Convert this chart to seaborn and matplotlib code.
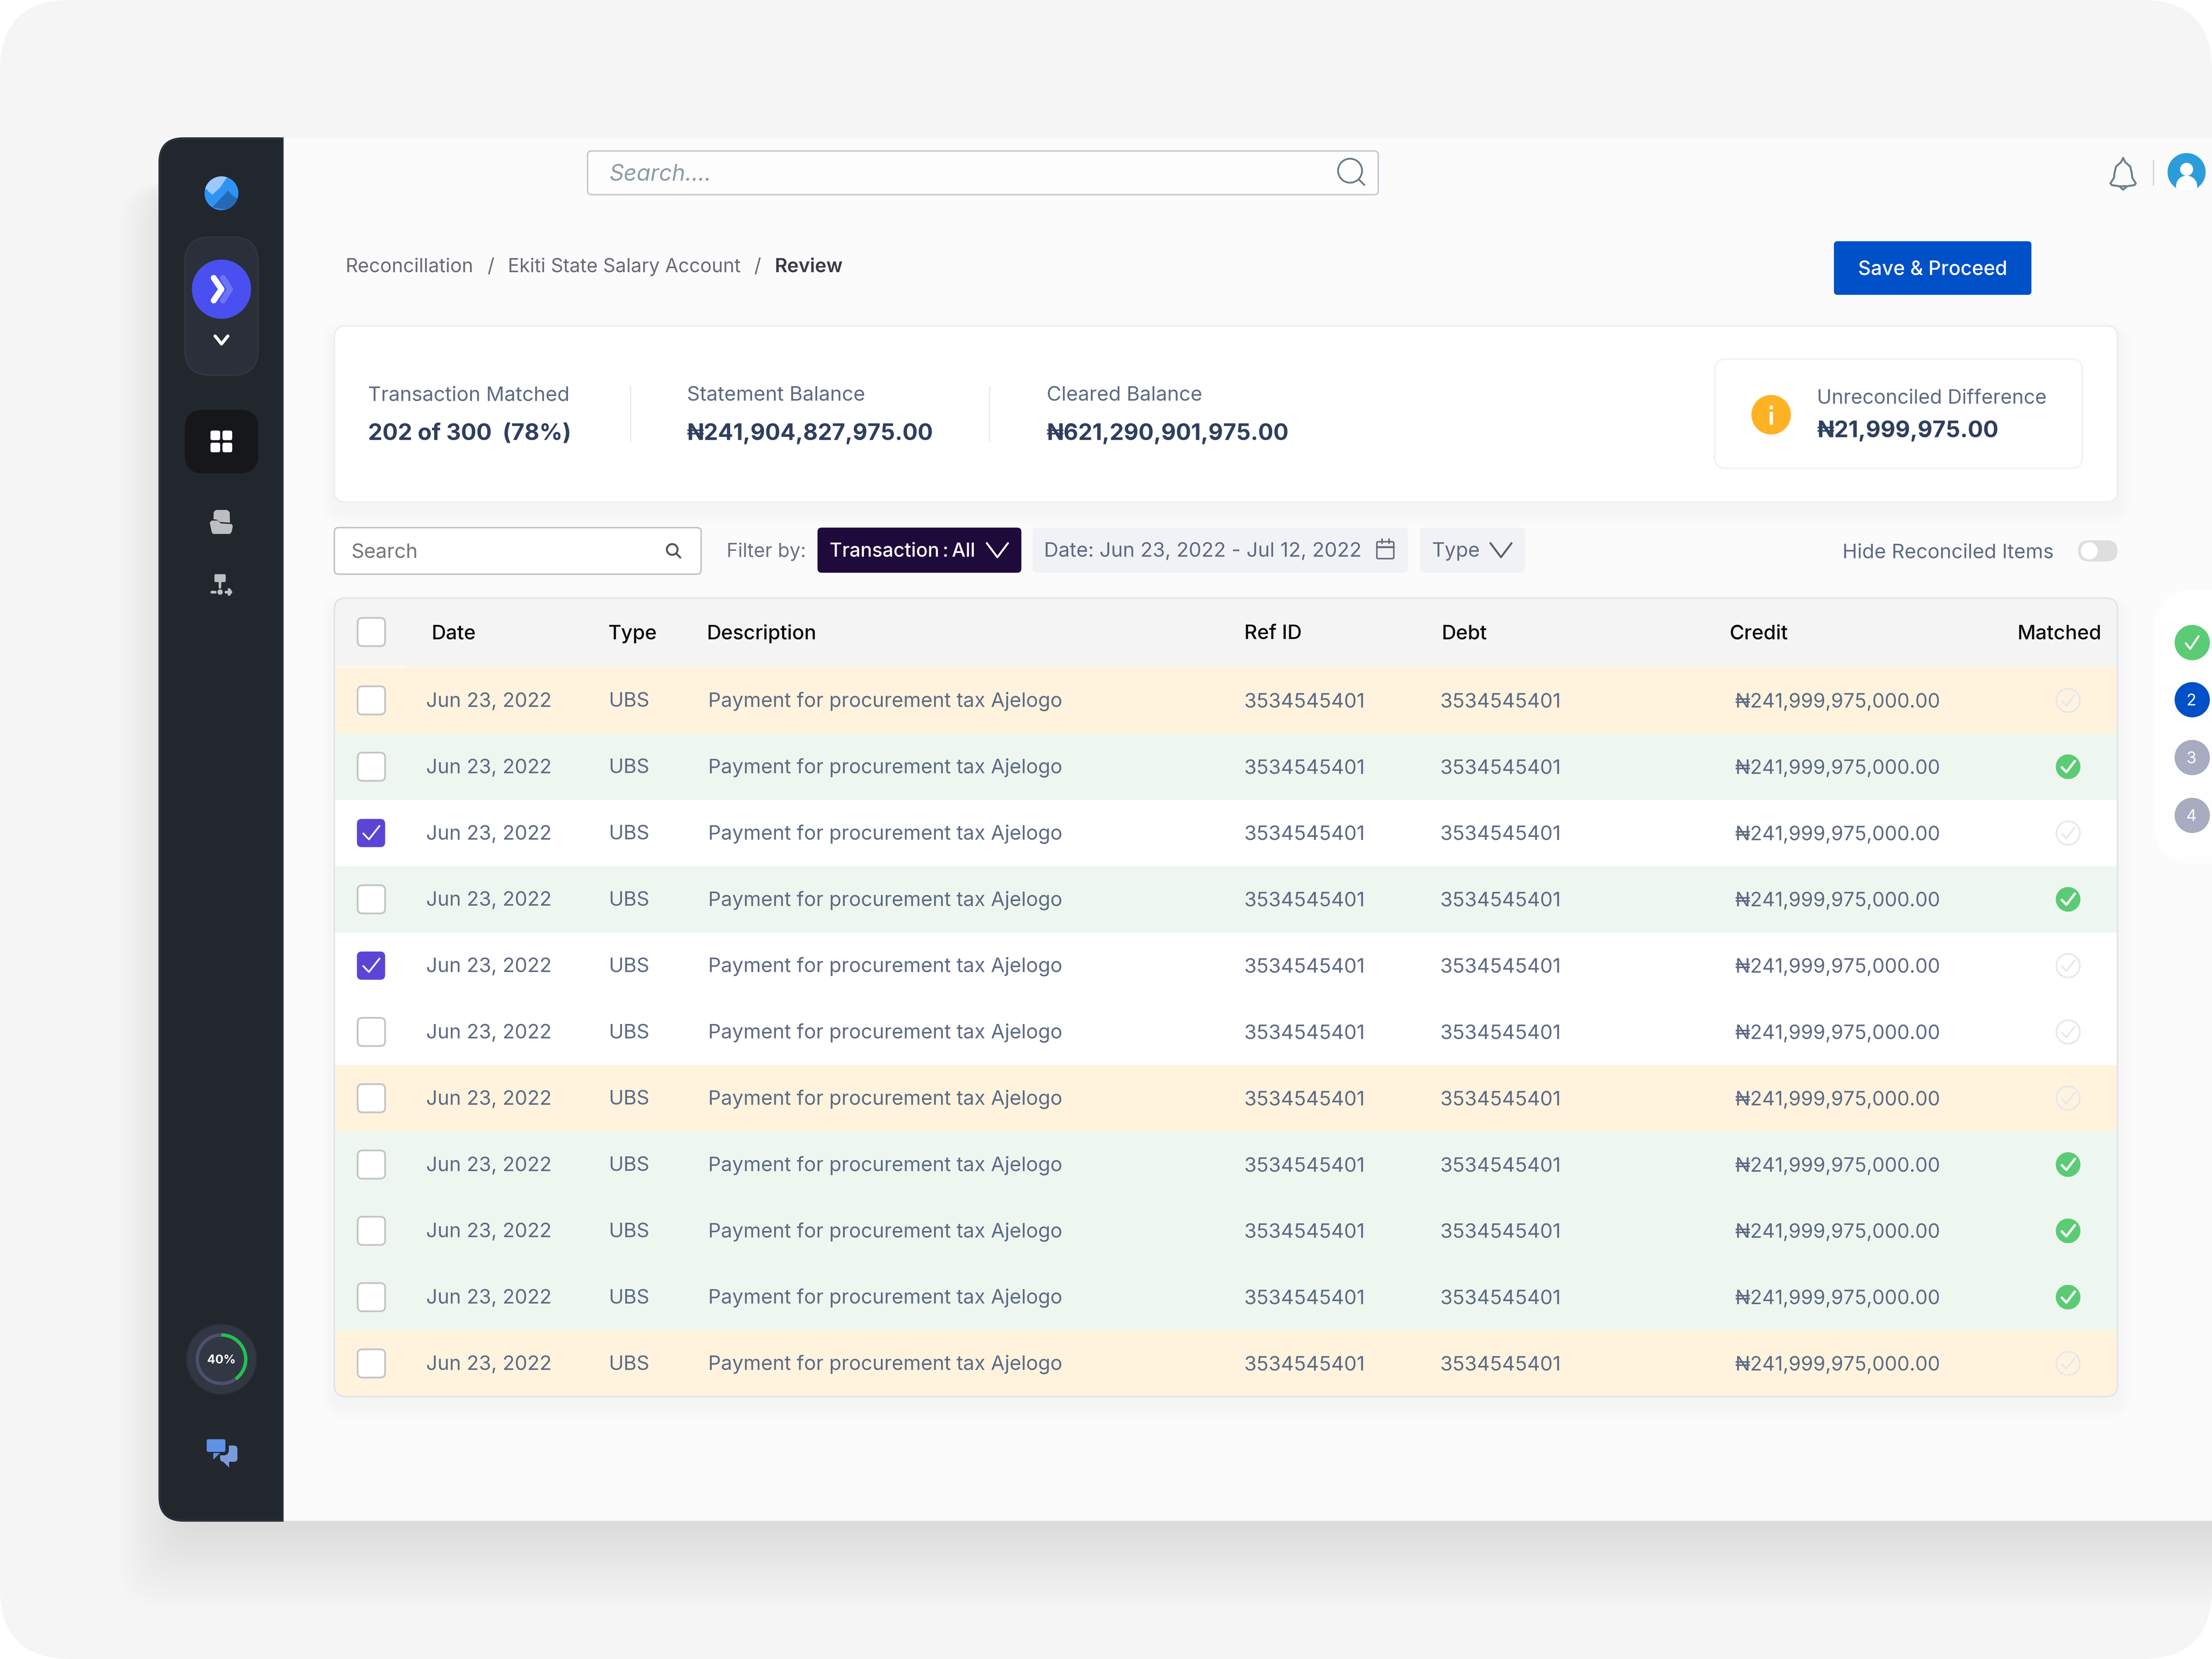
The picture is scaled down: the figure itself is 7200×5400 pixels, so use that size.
import numpy as np
import pandas as pd
import seaborn as sns
import matplotlib.pyplot as plt
from matplotlib.colors import ListedColormap
from matplotlib.patches import FancyBboxPatch, Circle, Wedge, Polygon, Rectangle

sns.set_theme(style='white')
plt.rcParams['font.family'] = ['Inter', 'DejaVu Sans']
plt.rcParams['patch.force_edgecolor'] = False
plt.rcParams['patch.linewidth'] = 0

# table content
dates = ['Jun 23, 2022'] * 11
types = ['UBS'] * 11
descriptions = ['Payment for procurement tax Ajelogo'] * 11
ref_ids = ['3534545401'] * 11
debts = ['3534545401'] * 11
credits = ['₦241,999,975,000.00'] * 11
row_status = [0, 1, 2, 1, 2, 2, 0, 1, 1, 1, 0]   # 0 orange, 1 green, 2 white
matched = [0, 1, 0, 1, 0, 0, 0, 1, 1, 1, 0]
checked = [0, 0, 1, 0, 1, 0, 0, 0, 0, 0, 0]
headers = ['Date', 'Type', 'Description', 'Ref ID', 'Debt', 'Credit', 'Matched']
header_x = [306, 431, 501, 882, 1022, 1226, 1430]

# summary cards
summary_labels = ['Transaction Matched', 'Statement Balance', 'Cleared Balance']
summary_values = ['202 of 300  (78%)', '₦241,904,827,975.00', '₦621,290,901,975.00']
summary_x = [261, 487, 742]
steps = ['2', '3', '4']
step_colors = ['#0050c8', '#a9abc0', '#a9abc0']
progress = 0.40

GREY = '#5f6b85'
NAVY = '#2f3f5f'
FONT = 0.735   # picture units to points
W, H = 1568, 1176

fig = plt.figure(figsize=(16, 12), dpi=450, facecolor='white')


def layer(z):
    a = fig.add_axes([0, 0, 1, 1], zorder=z)
    a.set_xlim(0, W)
    a.set_ylim(H, 0)
    a.axis('off')
    a.patch.set_alpha(0)
    return a


base = layer(0)
ax = layer(2)


def box(a, x0, y0, x1, y1, r, fc, ec='none', lw=0, **kw):
    p = FancyBboxPatch((x0, y0), x1 - x0, y1 - y0, boxstyle=f'round,pad=0,rounding_size={r}',
                       fc=fc, ec=ec, lw=lw, **kw)
    a.add_patch(p)
    return p


def txt(x, y, s, size=14.2, color=GREY, weight='normal', ha='left', **kw):
    ax.text(x, y + 0.36 * size, s, fontsize=size * FONT, color=color, weight=weight,
            ha=ha, va='baseline', **kw)


def line(xs, ys, color, lw=1.2, a=None, z=5):
    (a or ax).plot(xs, ys, color=color, lw=lw * FONT * 1.4, solid_capstyle='round',
                   solid_joinstyle='round', zorder=z)


def shadow(x0, y0, x1, y1, r, spread, dy, alpha, n=16):
    for i in range(n):
        e = spread * (n - i) / n
        box(base, x0 - e, y0 + dy - e, x1 + e, y1 + dy + e, r + e, 'black', alpha=alpha)


def chevron(x, y, w, h, color, lw=1.3):
    line([x - w, x, x + w], [y - h, y + h, y - h], color, lw)


def magnifier(x, y, r, color, lw=1.0, hl=None):
    ax.add_patch(Circle((x, y), r, fc='none', ec=color, lw=lw * FONT * 1.4, zorder=5))
    d = r * 0.72
    hl = hl or r * 0.5
    line([x + d, x + d + hl], [y + d, y + d + hl], color, lw)


# page and window
box(base, 0, 0, W, H, 50, '#f5f5f5')
# window shadow falls mostly downwards
n_shadow = 26
for i in range(n_shadow):
    f = (n_shadow - i) / n_shadow
    box(base, 133 - 50 * f, 130, 1700, 1078 + 62 * f, 16 + 20 * f, 'black', alpha=0.0042)
box(base, 201, 98, 1700, 1078, 0, '#fbfbfb')
sidebar = box(base, 113, 98, 300, 1078, 17, '#22272e', ec='#2d333d', lw=1)
sidebar.set_clip_path(Rectangle((100, 90), 101, 1000, transform=base.transData))
line([200.6, 200.6], [98, 1078], '#2d333d', 0.5, a=base)

# sidebar
logo = Circle((157, 137), 12, fc='#2f93f5')
ax.add_patch(logo)
for pts, c in [([(144, 124), (162, 124), (156, 133), (150.5, 138), (148, 136), (146.5, 134), (144, 134)], '#9ac8ff'),
               ([(150.5, 147), (158, 139), (161.75, 135), (164, 138), (170, 142), (170, 150)], '#2469b5')]:
    poly = Polygon(pts, fc=c, ec='none', zorder=3)
    ax.add_patch(poly)
    poly.set_clip_path(logo)

box(ax, 131, 168, 183, 266, 18, '#2a2f39', ec='#333842', lw=0.6)
ax.add_patch(Circle((157, 205), 21, fc='#4950ef', zorder=3))
line([158, 163, 158], [197, 205, 213], '#6e74f3', 3.0)
line([151.5, 157, 151.5], [197, 205, 213], 'white', 3.0, z=6)
chevron(157, 241, 4.5, 2.8, 'white', 1.6)

box(ax, 131, 290.5, 183, 335.5, 13, '#15171b')
for x0 in [149.2, 157.7]:
    for y0 in [305.2, 313.8]:
        box(ax, x0, y0, x0 + 6.9, y0 + 6.8, 1.4, 'white', zorder=4)

ICON = '#bcbec1'
ax.add_patch(Polygon([(151.5, 363), (153, 361.5), (161, 361.5), (162.8, 363), (163, 370.5),
                      (156, 370), (154, 368.5), (151.3, 368)], fc=ICON, ec='none'))
ax.add_patch(Polygon([(148.7, 370.5), (150, 369), (154.5, 369), (156.5, 371), (164.3, 371.5), (165, 373),
                      (164.2, 377), (163, 378.5), (151, 378.5), (150, 377)], fc=ICON, ec='none'))
box(ax, 152, 407, 160, 412.6, 1, ICON)
line([156, 156], [412.6, 416.5], ICON, 1.3)
ax.add_patch(Circle((156, 419.7), 1.9, fc=ICON))
line([150, 152.5], [419.7, 419.7], ICON, 1.4)
line([160, 163], [419.7, 419.7], ICON, 1.4)
ax.add_patch(Polygon([(161.5, 417), (163, 417), (164.8, 419.7), (163, 422.3), (161.5, 422.3)], fc=ICON))

ax.add_patch(Circle((157, 963.5), 25.3, fc='#2a2e37'))
ax.add_patch(Circle((157, 963.5), 24.5, fc='#323744'))
ax.add_patch(Wedge((157, 963.5), 18.4, 0, 360, width=2.4, fc='#4c5070', ec='none'))
ax.add_patch(Wedge((157, 963.5), 18.4, -90, -90 + 360 * progress, width=2.4, fc='#1fc24e', ec='none'))
txt(157, 963.5, '40%', 8.6, 'white', 'bold', ha='center')

ax.add_patch(Circle((157, 1029), 24.5, fc='#23272e'))
box(ax, 156, 1024.7, 168.3, 1036.2, 2.5, '#7b9ad9')
ax.add_patch(Polygon([(158, 1036), (162.4, 1040.3), (162.4, 1036)], fc='#7b9ad9'))
box(ax, 145.3, 1019, 161, 1030.4, 2.5, '#5f91e6', ec='#23272e', lw=1.8)
ax.add_patch(Polygon([(151.2, 1030), (151.2, 1034.7), (156, 1030)], fc='#5f91e6', ec='none', zorder=3))

# top bar
box(ax, 416.5, 107, 977, 138, 3, '#fdfdfd', ec='#c5cad5', lw=0.8)
txt(432, 122.5, 'Search....', 16, '#8f9ba6', style='italic')
magnifier(957, 121, 8.5, '#6b7b88', 0.9, 4)
bell_x = [1505, 1506.5, 1510, 1511, 1511.5, 1514, 1513, 1508, 1502, 1497, 1496, 1498.5, 1499, 1500, 1503.5, 1505]
bell_y = [112, 115, 118, 122, 126, 130, 131.2, 132, 132, 131.2, 130, 126, 122, 118, 115, 112]
line(bell_x, bell_y, '#6e7f8d', 1.0)
line([1502.8, 1505, 1507.2], [132.5, 134.5, 132.5], '#6e7f8d', 1.0)
line([1526.5, 1526.5], [114, 131], '#d2d6de', 0.7)
avatar = Circle((1550, 122), 13.5, fc='#2d9cdb')
ax.add_patch(avatar)
ax.add_patch(Circle((1550, 120), 4.6, fc='white', zorder=3))
shoulder = Circle((1550, 132), 7.5, fc='white', zorder=3)
ax.add_patch(shoulder)
shoulder.set_clip_path(avatar)

# breadcrumb and button
txt(245, 188, 'Reconcillation', 13.7, '#6b6b76')
txt(348, 188, '/', 13.7, '#6b6b76', ha='center')
txt(360, 188, 'Ekiti State Salary Account', 13.6, '#6b6b76')
txt(537, 188, '/', 13.7, '#6b6b76', ha='center')
txt(549, 188, 'Review', 13.7, '#3a3a45', 'semibold')
box(ax, 1300, 171, 1440, 209, 2.5, '#0050c8')
txt(1370, 190, 'Save & Proceed', 14, 'white', 'medium', ha='center')

# summary card
shadow(237, 231, 1501, 356, 8, 10, 6, 0.0022, n=6)
box(base, 237, 231, 1501, 356, 8, 'white', ec='#eeeef2', lw=0.8)
for x, lab, val in zip(summary_x, summary_labels, summary_values):
    txt(x, 279, lab, 14.25)
    txt(x, 306, val, 16 if val.startswith('₦') else 16.2, NAVY, 'bold')
for x in [447, 701.5]:
    line([x, x], [274, 313], '#e6e8f0', 0.6)
box(ax, 1215.5, 254.5, 1476, 332, 8, 'white', ec='#f2f2f7', lw=0.8)
ax.add_patch(Circle((1255.5, 294), 14, fc='#ffb224'))
ax.add_patch(Rectangle((1254.4, 292), 2.3, 9, fc='white', zorder=3))
ax.add_patch(Rectangle((1254.4, 287.5), 2.3, 2.5, fc='white', zorder=3))
txt(1288, 281, 'Unreconciled Difference', 14.07)
txt(1288, 304, '₦21,999,975.00', 16.1, NAVY, 'bold')

# filter row
box(ax, 237, 374, 497, 407, 3, 'white', ec='#c4c4c4', lw=0.8)
txt(249, 390.5, 'Search', 14.2, '#777777')
magnifier(476.5, 389.5, 3.8, '#555555', 1.0, 3)
txt(515, 390, 'Filter by:', 13.7, '#6b7280')
box(ax, 579.5, 374, 724, 406, 3, '#1f0a3c')
txt(588, 389.5, 'Transaction\u2009:\u2009All', 13.7, 'white', 'medium')
chevron(707, 390, 7.5, 5, 'white', 1.0)
box(ax, 732, 374, 998, 406, 3, '#f1f2f6')
txt(740, 389.5, 'Date: Jun 23, 2022 - Jul 12, 2022', 14.25, GREY)
box(ax, 976, 384, 988, 396, 1.2, 'none', ec='#6b6b80', lw=0.8)
line([976, 988], [387.8, 387.8], '#6b6b80', 1.0)
line([979.5, 979.5], [382, 385], '#6b6b80', 0.8)
line([984.5, 984.5], [382, 385], '#6b6b80', 0.8)
box(ax, 1006.5, 374, 1081, 406, 3, '#f1f2f6')
txt(1015, 389.5, 'Type', 14.2, GREY)
chevron(1064, 390, 7.5, 5, '#5e5e6e', 1.0)
txt(1306, 390.5, 'Hide Reconciled Items', 14.2, GREY)
box(ax, 1473, 383, 1501, 398, 7.5, '#dedede')
ax.add_patch(Circle((1481, 390.5), 6, fc='white', zorder=3))

# table: header and coloured rows
n_rows = len(row_status)
top, head, row_h = 424, 49, 47
bottom = top + head + n_rows * row_h
left, right = 237, 1501
shadow(left, top, right, bottom, 8, 10, 6, 0.0022, n=6)
table_shape = box(base, left, top, right, bottom, 8, '#f4f4f4')

heat = fig.add_axes([left / W, 1 - bottom / H, (right - left) / W, (n_rows * row_h) / H], zorder=1)
rows = pd.DataFrame({'status': row_status})
sns.heatmap(rows, ax=heat, cmap=ListedColormap(['#fff3de', '#edf7ef', '#ffffff']), vmin=0, vmax=2,
            cbar=False, xticklabels=False, yticklabels=False, linewidths=0)
heat.set(xlabel='', ylabel='')
heat.patch.set_alpha(0)
heat.collections[0].set_clip_path(table_shape)
heat.collections[0].set_antialiased(False)

box(ax, left, top, right, bottom, 8, 'none', ec='#e3e3ea', lw=0.8, zorder=4)
line([left + 1, 287], [472.5, 472.5], '#fdfdfd', 0.6)

for x, h in zip(header_x, headers):
    txt(x, 448, h, 14.2, '#0c0c0c', 'medium')
box(ax, 253.5, 438, 273, 458, 3.5, 'white', ec='#c4c4c4', lw=0.9)

row_y = top + head + row_h * (np.arange(n_rows) + 0.5)
cols = zip(dates, types, descriptions, ref_ids, debts, credits)
for y, c, (d, t, desc, ref, debt, cred) in zip(row_y, checked, cols):
    if c:
        box(ax, 253, y - 10, 273, y + 10, 3.5, '#5b45d6')
        line([257.5, 261.5, 269], [y + 0.3, y + 4.5, y - 5], 'white', 0.9)
    else:
        box(ax, 253.5, y - 10, 273, y + 10, 3.5, 'white', ec='#c4c4c4', lw=0.9)
    txt(302, y - 0.5, d, 14.15)
    txt(431.5, y - 0.5, t, 14.15)
    txt(502, y - 0.5, desc, 14.2)
    txt(882, y, ref, 14.22)
    txt(1021, y, debt, 14.22)
    txt(1230, y, cred, 13.97)

# matched column
marks = pd.DataFrame({'x': 1466.0, 'y': row_y, 'matched': matched})
sns.scatterplot(data=marks[marks.matched == 1], x='x', y='y', ax=ax, s=165, color='#5ccb76',
                edgecolor='none', legend=False, zorder=4)
sns.scatterplot(data=marks[marks.matched == 0], x='x', y='y', ax=ax, s=150, facecolor='none',
                edgecolor='#e6e6ec', linewidth=0.8, legend=False, zorder=4)
ax.set(xlabel='', ylabel='')
ax.set_xlim(0, W)
ax.set_ylim(H, 0)
for y, m in zip(row_y, matched):
    line([1461.5, 1464.8, 1470.8], [y + 0.4, y + 3.8, y - 4], 'white' if m else '#e6e6ec', 1.2 if m else 0.8, z=6)

# stepper on the right
box(ax, 1527, 418, 1640, 612, 28, '#fefefe')
ax.add_patch(Circle((1554, 455.5), 12.5, fc='#5ccb76', zorder=3))
line([1549.5, 1552.5, 1558.5], [456, 460, 451], 'white', 1.0)
for i, (s, c) in enumerate(zip(steps, step_colors)):
    y = 496 + 41 * i
    ax.add_patch(Circle((1554, y), 12.5, fc=c, zorder=3))
    ax.text(1553.5, y + 4, s, fontsize=11.5 * FONT, color='white', ha='center', va='baseline', zorder=4)

fig.savefig('out.png', dpi=450)
